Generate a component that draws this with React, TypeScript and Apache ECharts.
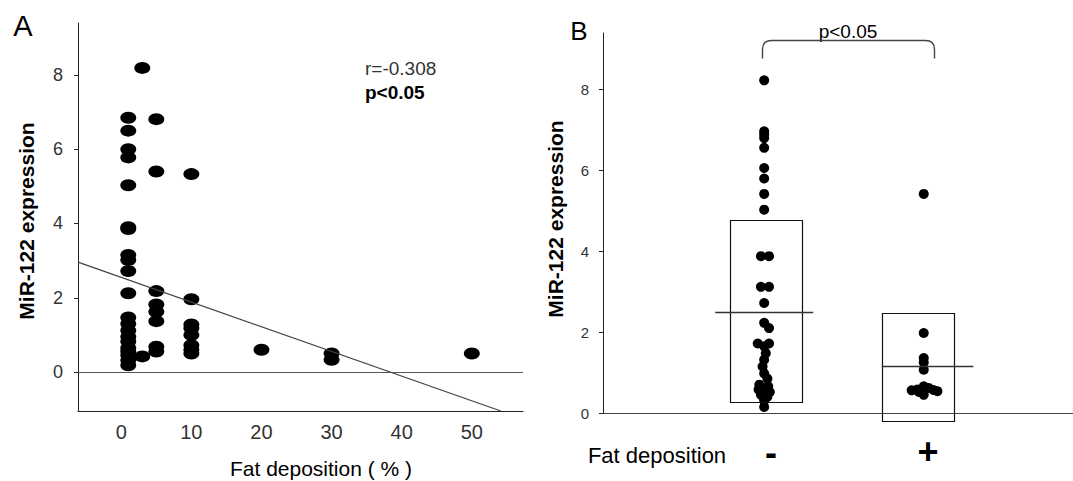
import React, { useEffect, useRef } from "react";
import * as echarts from "echarts";

// ---------- Panel A: scatter of miR-122 vs fat deposition ----------
const fatPct = [
  1, 1, 1, 1, 1, 1, 1, 1, 1, 1, 1, 1, 1, 1, 1, 1, 1, 1, 1, 1, 1,
  3, 3,
  5, 5, 5, 5, 5, 5, 5, 5,
  10, 10, 10, 10, 10, 10, 10, 10,
  20,
  30, 30,
  50,
];
const mirA = [
  6.85, 6.5, 6.0, 5.78, 5.03, 3.9, 3.85, 3.15, 3.02, 2.72, 2.12, 1.47, 1.3, 1.12, 0.95, 0.82, 0.65, 0.55, 0.45, 0.32, 0.18,
  8.19, 0.42,
  6.81, 5.4, 2.18, 1.82, 1.62, 1.37, 0.68, 0.55,
  5.33, 1.96, 1.28, 1.18, 1.0, 0.72, 0.6, 0.5,
  0.6,
  0.5, 0.33,
  0.5,
];
const regIntercept = 2.55;
const regSlope = -0.0665;
const aXMin = -6.17;
const aXMax = 57.3;
const aYMin = -1.05;
const aYMax = 9.4;
const aXTicks = [0, 10, 20, 30, 40, 50];
const aYTicks = [0, 2, 4, 6, 8];
const statR = "r=-0.308";
const statP = "p<0.05";

// ---------- Panel B: groups without / with fat deposition ----------
const groupLabels = ["-", "+"];
const negX = [
  1, 1, 1, 1, 1, 1, 1, 1, 1,
  0.98, 1.03, 0.98, 1.03, 1, 1, 1.03,
  0.96, 1.03, 1, 1.01, 1, 0.99, 1, 1.02, 0.97, 1.025, 0.965, 1, 1.035, 0.98, 1.02, 1, 1,
];
const negY = [
  8.23, 6.97, 6.89, 6.8, 6.56, 6.06, 5.8, 5.42, 5.03,
  3.88, 3.88, 3.12, 3.12, 2.72, 2.23, 2.1,
  1.72, 1.72, 1.65, 1.48, 1.32, 1.15, 0.98, 0.85, 0.7, 0.66, 0.58, 0.55, 0.52, 0.45, 0.4, 0.3, 0.15,
];
const posX = [1.99, 1.99, 1.99, 1.99, 1.99, 1.915, 1.95, 1.99, 2.02, 2.05, 2.075, 1.99, 1.96];
const posY = [5.42, 1.98, 1.36, 1.25, 1.07, 0.56, 0.58, 0.66, 0.62, 0.57, 0.54, 0.45, 0.52];
const groupPos = [1, 2];
const boxLow = [0.26, -0.19];
const boxHigh = [4.77, 2.48];
const groupMean = [2.5, 1.17];
const bYTicks = [0, 2, 4, 6, 8];
const bXMax = 2.916;
const bYMax = 9.4;
const bracketText = "p<0.05";

// ---------- styles ----------
const FONT = "'Liberation Sans', Arial, Helvetica, sans-serif";
const BOX_LAYOUT = [
  { left: -34, right: 37.5, meanLeft: -49, meanRight: 49 },
  { left: -43, right: 29, meanLeft: -43.5, meanRight: 48 },
];

echarts.graphic.registerShape(
  "bracket",
  echarts.graphic.extendPath("M0 18 L0 9 Q0 0 9 0 L163 0 Q172 0 172 9 L172 18", {})
);

export default function App() {
  const ref = useRef<HTMLDivElement>(null);

  useEffect(() => {
    if (!ref.current) return;
    const chart = echarts.init(ref.current, undefined, { renderer: "svg" });

    const regX0 = aXMin;
    const regX1 = (aYMin - regIntercept) / regSlope;
    const regData = [
      [regX0, regIntercept + regSlope * regX0],
      [regX1, regIntercept + regSlope * regX1],
    ];

    const txt = (
      text: string,
      x: number,
      y: number,
      size: number,
      opts: any = {}
    ) => ({
      type: "text",
      x,
      y,
      rotation: opts.rotation || 0,
      silent: true,
      style: {
        text,
        fontSize: size,
        fontFamily: FONT,
        fontWeight: opts.bold ? "bold" : "normal",
        fill: opts.color || "#000",
        textAlign: opts.align || "center",
        textVerticalAlign: "middle",
      },
    });

    const dot = { color: "#000", opacity: 1 };

    chart.setOption({
      animation: false,
      backgroundColor: "#fff",
      grid: [
        { left: 78, top: 23, width: 445, height: 388 },
        { left: 603, top: 33, width: 470, height: 380 },
      ],
      xAxis: [
        {
          gridIndex: 0,
          type: "value",
          min: aXMin,
          max: aXMax,
          axisLine: { onZero: false, lineStyle: { color: "#222", width: 1 } },
          axisTick: { show: false },
          splitLine: { show: false },
          axisLabel: {
            customValues: aXTicks,
            fontSize: 20,
            fontFamily: FONT,
            color: "#333",
            margin: 11,
          },
        },
        {
          gridIndex: 1,
          type: "value",
          min: 0,
          max: bXMax,
          axisLine: { onZero: false, lineStyle: { color: "#444", width: 1 } },
          axisTick: { show: false },
          splitLine: { show: false },
          axisLabel: { show: false },
        },
      ],
      yAxis: [
        {
          gridIndex: 0,
          type: "value",
          min: aYMin,
          max: aYMax,
          axisLine: { show: true, onZero: false, lineStyle: { color: "#222", width: 1 } },
          axisTick: { show: true, customValues: aYTicks, length: 4, lineStyle: { color: "#222" } },
          splitLine: { show: false },
          axisLabel: {
            customValues: aYTicks,
            fontSize: 18,
            fontFamily: FONT,
            color: "#333",
            margin: 15,
          },
        },
        {
          gridIndex: 1,
          type: "value",
          min: 0,
          max: bYMax,
          axisLine: { show: true, onZero: false, lineStyle: { color: "#222", width: 1 } },
          axisTick: { show: true, customValues: bYTicks, length: 4, lineStyle: { color: "#222" } },
          splitLine: { show: false },
          axisLabel: {
            customValues: bYTicks,
            fontSize: 15,
            fontFamily: FONT,
            color: "#333",
            margin: 14,
          },
        },
      ],
      series: [
        {
          type: "scatter",
          xAxisIndex: 0,
          yAxisIndex: 0,
          symbol: "circle",
          symbolSize: [16, 12],
          itemStyle: dot,
          data: fatPct.map((x, i) => [x, mirA[i]]),
          z: 3,
        },
        {
          type: "line",
          xAxisIndex: 0,
          yAxisIndex: 0,
          symbol: "none",
          lineStyle: { color: "#444", width: 1.2 },
          data: regData,
          z: 4,
          markLine: {
            silent: true,
            symbol: "none",
            label: { show: false },
            lineStyle: { color: "#555", width: 1, type: "solid" },
            data: [{ yAxis: 0 }],
          },
        },
        {
          type: "scatter",
          xAxisIndex: 1,
          yAxisIndex: 1,
          symbol: "circle",
          symbolSize: 10,
          itemStyle: dot,
          data: negX.map((x, i) => [x, negY[i]]),
          z: 2,
        },
        {
          type: "scatter",
          xAxisIndex: 1,
          yAxisIndex: 1,
          symbol: "circle",
          symbolSize: 10,
          itemStyle: dot,
          data: posX.map((x, i) => [x, posY[i]]),
          z: 2,
        },
        {
          type: "custom",
          xAxisIndex: 1,
          yAxisIndex: 1,
          clip: false,
          z: 3,
          data: groupPos.map((g, i) => [g, boxLow[i], boxHigh[i], groupMean[i]]),
          renderItem: (params: any, api: any) => {
            const i = params.dataIndex;
            const L = BOX_LAYOUT[i];
            const g = api.value(0);
            const top = api.coord([g, api.value(2)]);
            const bot = api.coord([g, api.value(1)]);
            const mean = api.coord([g, api.value(3)]);
            return {
              type: "group",
              children: [
                {
                  type: "rect",
                  shape: {
                    x: Math.round(top[0] + L.left) + 0.5,
                    y: Math.round(top[1]) + 0.5,
                    width: Math.round(L.right - L.left),
                    height: Math.round(bot[1] - top[1]),
                  },
                  style: { fill: "none", stroke: "#111", lineWidth: 1.2 },
                },
                {
                  type: "line",
                  shape: {
                    x1: mean[0] + L.meanLeft,
                    y1: Math.round(mean[1]) + 0.5,
                    x2: mean[0] + L.meanRight,
                    y2: Math.round(mean[1]) + 0.5,
                  },
                  style: { stroke: "#333", lineWidth: 1.4 },
                },
              ],
            };
          },
        },
      ],
      graphic: [
        txt("A", 23, 26, 29),
        txt("B", 579, 31, 26),
        txt(statR, 365, 68, 19, { align: "left", color: "#333" }),
        txt(statP, 365, 92, 19, { align: "left", bold: true }),
        txt("Fat deposition ( % )", 321, 468, 21),
        txt("MiR-122 expression", 26, 221, 21, { bold: true, rotation: Math.PI / 2 }),
        txt("MiR-122 expression", 555, 219, 21, { bold: true, rotation: Math.PI / 2 }),
        txt("Fat deposition", 657, 455, 22),
        txt(groupLabels[0], 771, 452, 36, { bold: true }),
        txt(groupLabels[1], 928, 451, 36, { bold: true }),
        txt(bracketText, 848, 31, 19),
        {
          type: "bracket",
          x: 762.5,
          y: 40.5,
          silent: true,
          style: { stroke: "#444", fill: "none", lineWidth: 1.4 },
        },
      ],
    });

    return () => chart.dispose();
  }, []);

  return (
    <div
      ref={ref}
      style={{ position: "absolute", left: 0, top: 0, width: 1073, height: 481 }}
    />
  );
}
